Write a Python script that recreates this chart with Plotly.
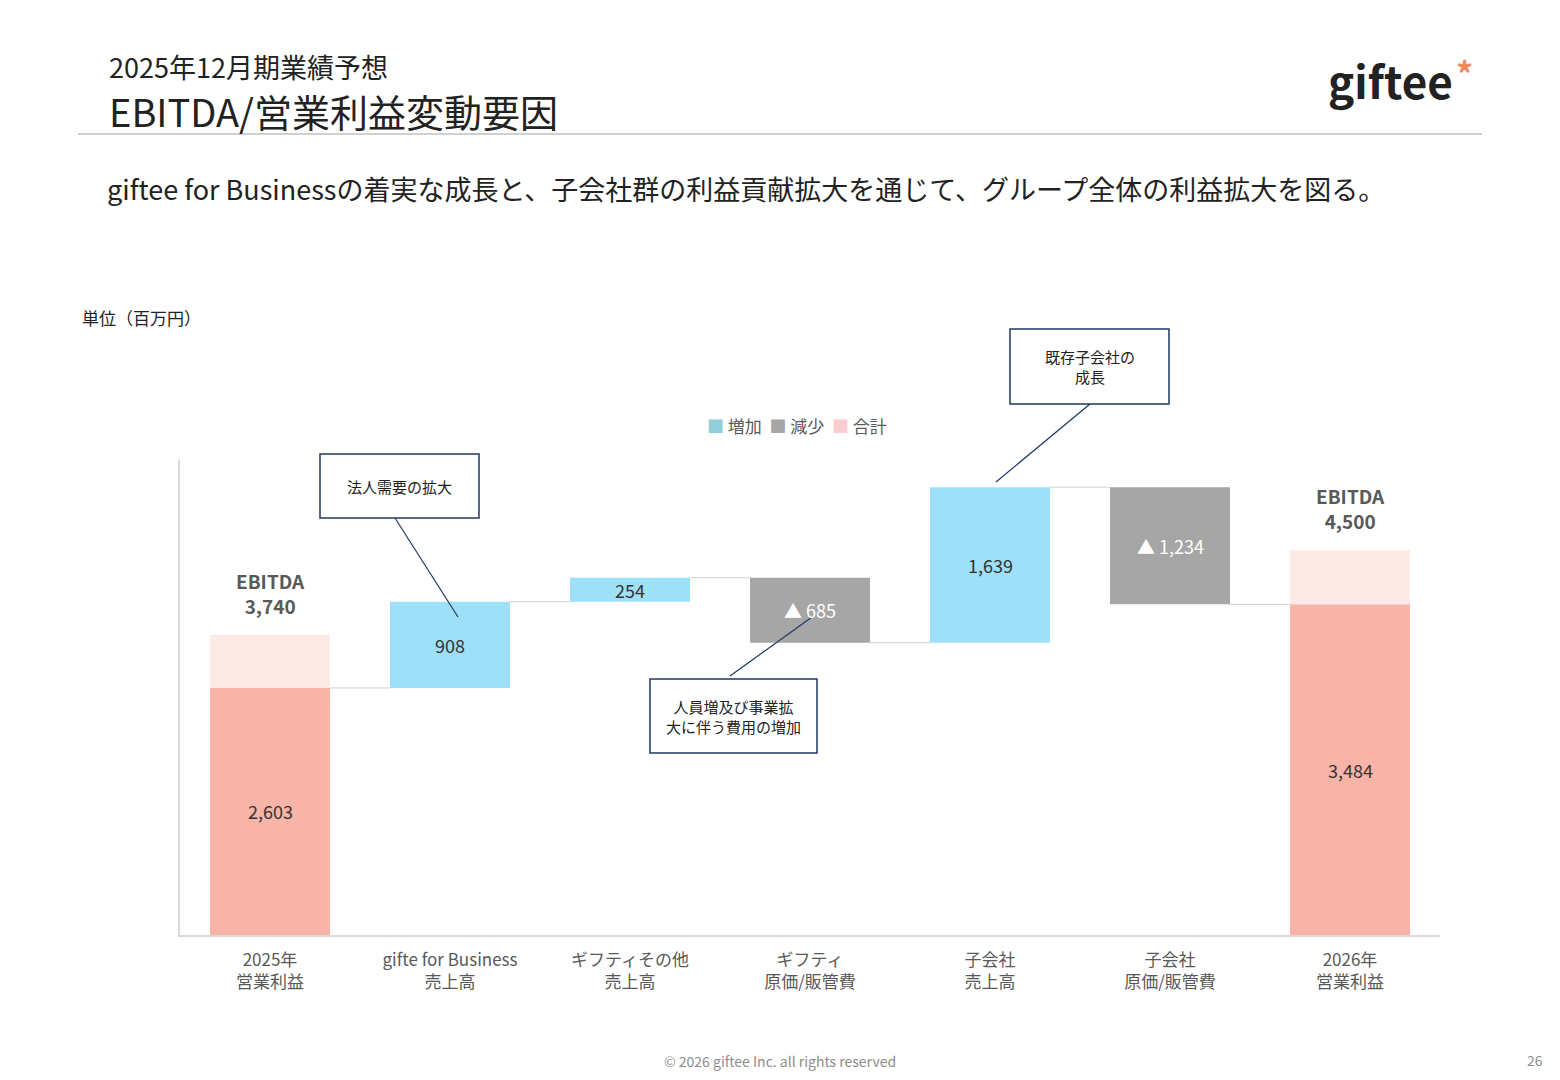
import plotly.graph_objects as go

# page is offset by the browser's 8px body margin, so the figure is 16px smaller
OFF = 8
W, H = 1560 - 2 * OFF, 1080 - 2 * OFF
FONT = "Noto Sans CJK JP"

# data
categories = ["2025年<br>営業利益", "gifte for Business<br>売上高", "ギフティその他<br>売上高",
              "ギフティ<br>原価/販管費", "子会社<br>売上高", "子会社<br>原価/販管費", "2026年<br>営業利益"]
deltas = [2603, 908, 254, -685, 1639, -1234, 3484]
kinds = ["total", "up", "up", "down", "up", "down", "total"]
bar_labels = ["2,603", "908", "254", "▲ 685", "1,639", "▲ 1,234", "3,484"]
ebitda_labels = ["<b>EBITDA<br>3,740</b>", "<b>EBITDA<br>4,500</b>"]
ebitda_pad = [560, 570]  # light band drawn above the total bars (not to scale in the source)

colors = {"up": "#9EE0F7", "down": "#A6A6A6", "total": "#F8B4A6"}
PAD_COLOR = "#FBEAE6"

# waterfall bases
bases, tops = [], []
level = 0
for d, k in zip(deltas, kinds):
    if k == "total":
        b, t = 0, d
        level = d
    else:
        b = level if d > 0 else level + d
        t = b + abs(d)
        level += d
    bases.append(b)
    tops.append(t)

x = list(range(len(categories)))
fig = go.Figure()
fig.add_trace(go.Bar(x=x, y=[abs(d) for d in deltas], base=bases, width=0.667,
                     marker=dict(color=[colors[k] for k in kinds], line_width=0),
                     showlegend=False, hoverinfo="skip"))
tot_idx = [i for i, k in enumerate(kinds) if k == "total"]
fig.add_trace(go.Bar(x=tot_idx, y=ebitda_pad, base=[tops[i] for i in tot_idx], width=0.667,
                     marker=dict(color=PAD_COLOR, line_width=0), showlegend=False, hoverinfo="skip"))

shapes = []
# connectors
for i in range(len(deltas) - 1):
    lv = tops[i] if (kinds[i] == "total" or deltas[i] > 0) else bases[i]
    shapes.append(dict(type="line", x0=i + 0.333, x1=i + 1 - 0.333, y0=lv, y1=lv,
                       line=dict(color="#D0D0D0", width=1)))

ann = []
for i, (lab, k) in enumerate(zip(bar_labels, kinds)):
    ann.append(dict(x=i, y=(bases[i] + tops[i]) / 2, text=lab, showarrow=False,
                    font=dict(size=18, family=FONT, color="white" if k == "down" else "#333333")))
for j, i in enumerate(tot_idx):
    ann.append(dict(x=i, y=tops[i] + ebitda_pad[j], yshift=14, yanchor="bottom", text=ebitda_labels[j],
                    showarrow=False, font=dict(size=19, color="#595959", family=FONT)))


def px(xp, yp):
    return (xp - OFF) / W, 1 - (yp - OFF) / H


def paper_text(xp, yp, text, size, color="#222222", xanchor="left", yanchor="middle", **kw):
    xx, yy = px(xp, yp)
    ann.append(dict(xref="paper", yref="paper", x=xx, y=yy, text=text, showarrow=False,
                    xanchor=xanchor, yanchor=yanchor, font=dict(size=size, color=color, family=FONT), **kw))


def box(x0, y0, x1, y1, text, lx0, ly0, lx1, ly1):
    a0, b0 = px(x0, y0)
    a1, b1 = px(x1, y1)
    shapes.append(dict(type="rect", xref="paper", yref="paper", x0=a0, y0=b0, x1=a1, y1=b1,
                       line=dict(color="#1F3864", width=1.5), fillcolor="white", layer="above"))
    c0, d0 = px(lx0, ly0)
    c1, d1 = px(lx1, ly1)
    shapes.append(dict(type="line", xref="paper", yref="paper", x0=c0, y0=d0, x1=c1, y1=d1,
                       line=dict(color="#1F3864", width=1.2), layer="above"))
    paper_text((x0 + x1) / 2, (y0 + y1) / 2, text, 15, xanchor="center", align="center")


box(320, 454, 479, 518, "法人需要の拡大", 395, 518, 458, 617)
box(650, 679, 817, 753, "人員増及び事業拡<br>大に伴う費用の増加", 730, 676, 812, 617)
box(1010, 329, 1169, 404, "既存子会社の<br>成長", 1090, 404, 996, 482)

# header
paper_text(107, 66, "2025年12月期業績予想", 27)
paper_text(107, 111, "EBITDA/営業利益変動要因", 38)
paper_text(1326, 80, "<b>giftee</b>", 44, color="#222222")
paper_text(1454, 72, "<b>*</b>", 34, color="#F08A5D")
a0, b0 = px(78, 134)
a1, _ = px(1482, 134)
shapes.append(dict(type="line", xref="paper", yref="paper", x0=a0, x1=a1, y0=b0, y1=b0,
                   line=dict(color="#A0A0A0", width=1)))
paper_text(105, 188, "giftee for Businessの着実な成長と、子会社群の利益貢献拡大を通じて、グループ全体の利益拡大を図る。", 27)
paper_text(80, 318, "単位（百万円）", 17)
paper_text(705, 425, "<span style='color:#92CDDC'>■</span> 増加  <span style='color:#A6A6A6'>■</span> 減少  "
                     "<span style='color:#F9CCD0'>■</span> 合計", 17, color="#595959")
paper_text(780, 1061, "© 2026 giftee Inc. all rights reserved", 14, color="#8C8C8C", xanchor="center")
paper_text(1545, 1060, "26", 14, color="#8C8C8C", xanchor="right")

fx0, fy0 = px(180, 935)
fx1, fy1 = px(1440, 460)
fig.update_layout(
    width=W, height=H, barmode="overlay", plot_bgcolor="white", paper_bgcolor="white",
    margin=dict(l=0, r=0, t=0, b=0),
    font=dict(family=FONT),
    xaxis=dict(domain=[fx0, fx1], tickmode="array", tickvals=x, ticktext=categories,
               range=[-0.5, 6.5], tickfont=dict(size=17, color="#595959"), showline=True,
               linecolor="#D9D9D9", linewidth=1.5, ticks="", showgrid=False, ticklabelstandoff=9),
    yaxis=dict(domain=[fy0, fy1], range=[0, 5005], showticklabels=False,
               showgrid=False, zeroline=False, showline=True, linecolor="#D9D9D9", linewidth=1.5),
    annotations=ann, shapes=shapes,
)
fig.write_html("out.html")
